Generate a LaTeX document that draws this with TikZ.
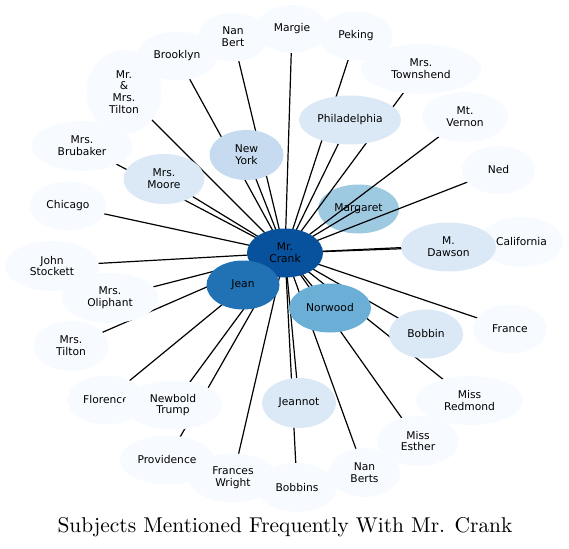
\documentclass[tikz,border=0pt]{standalone}
\usepackage{fontspec}
\newfontfamily\djv{DejaVu Sans}
\newfontfamily\ttlfont{lmroman10-regular.otf}
\usetikzlibrary{shapes.geometric}
\pgfdeclarelayer{bg}
\pgfdeclarelayer{edges}
\pgfsetlayers{bg,edges,main}
\definecolor{crankc}{HTML}{08519C}
\definecolor{jeanc}{HTML}{2171B5}
\definecolor{norwoodc}{HTML}{6BAED6}
\definecolor{margaretc}{HTML}{9ECAE1}
\definecolor{nyc}{HTML}{C6DBEF}
\definecolor{lightc}{HTML}{DBE9F6}
\definecolor{outerc}{HTML}{F7FBFF}
\tikzset{
  nd/.style={ellipse, draw=none, inner sep=0pt, align=center,
    font=\djv\fontsize{10.7}{11.7}\selectfont, text=black},
  ed/.style={line width=1.2pt, black}
}
\newcommand\nd[7]{\node[nd, fill=#6, minimum width=#4pt, minimum height=#5pt] (#1) at (#2,#3) {#7};}
\begin{document}
\begin{tikzpicture}[x=1pt,y=-1pt]
\useasboundingbox (0,0) rectangle (569,548);
\begin{pgfonlayer}{bg}
\nd{margaret}{358.5}{209}{81}{49}{margaretc}{Margaret}
\end{pgfonlayer}
\nd{crank}{285}{253}{76}{49}{crankc}{Mr.\\Crank}
\nd{jean}{243}{285}{73}{49}{jeanc}{Jean}
\nd{norwood}{330}{308}{82}{49}{norwoodc}{Norwood}
\nd{newyork}{246.5}{155}{74}{50}{nyc}{New\\York}
\nd{phil}{350}{120}{102}{49}{lightc}{Philadelphia}
\nd{brubaker}{82}{146}{101}{50}{outerc}{Mrs.\\Brubaker}
\nd{moore}{164}{179}{81}{50}{lightc}{Mrs.\\Moore}
\nd{california}{521.5}{242}{83}{50}{outerc}{California}
\nd{dawson}{448.5}{247}{95}{49}{lightc}{M.\\Dawson}
\nd{bobbin}{426}{334}{74}{49}{lightc}{Bobbin}
\nd{jeannot}{299}{403}{74}{50}{lightc}{Jeannot}
\nd{tiltons}{124}{92}{75}{84}{outerc}{Mr.\\\&\\Mrs.\\Tilton}
\nd{brooklyn}{177}{56}{80}{49}{outerc}{Brooklyn}
\nd{nanbert}{233}{37}{70}{49}{outerc}{Nan\\Bert}
\nd{margie}{292}{29}{72}{48}{outerc}{Margie}
\nd{peking}{356}{36}{73}{49}{outerc}{Peking}
\nd{townshend}{421}{69}{120}{50}{outerc}{Mrs.\\Townshend}
\nd{vernon}{465}{117}{86}{50}{outerc}{Mt.\\Vernon}
\nd{ned}{498.5}{170}{73}{48}{outerc}{Ned}
\nd{chicago}{68}{206}{77}{49}{outerc}{Chicago}
\nd{stockett}{52}{266}{94}{50}{outerc}{John\\Stockett}
\nd{oliphant}{110}{298}{97}{50}{outerc}{Mrs.\\Oliphant}
\nd{mtilton}{71}{346}{75}{50}{outerc}{Mrs.\\Tilton}
\nd{florence}{106}{400}{78}{49}{outerc}{Florence}
\nd{newbold}{173}{405}{99}{49}{outerc}{Newbold\\Trump}
\nd{providence}{167}{460}{94}{49}{outerc}{Providence}
\nd{bobbins}{297}{487.5}{80}{49}{outerc}{Bobbins}
\nd{frances}{233}{478}{88}{49}{outerc}{Frances\\Wright}
\nd{nanberts}{364.5}{472.5}{72}{49}{outerc}{Nan\\Berts}
\nd{esther}{418}{441}{82}{50}{outerc}{Miss\\Esther}
\nd{redmond}{469.5}{400.5}{107}{49}{outerc}{Miss\\Redmond}
\nd{france}{510}{329}{74}{49}{outerc}{France}
\begin{pgfonlayer}{edges}
\foreach \n in {margaret,jean,norwood,newyork,phil,brubaker,moore,california,dawson,bobbin,jeannot,tiltons,brooklyn,nanbert,margie,peking,townshend,vernon,ned,chicago,stockett,oliphant,mtilton,florence,newbold,providence,bobbins,frances,nanberts,esther,redmond,france}
  \draw[ed] (crank.center) -- (\n.center);
\end{pgfonlayer}
\node[anchor=base, inner sep=0pt, font=\ttlfont\fontsize{21.4}{25}\selectfont] (title) at (285,532) {Subjects Mentioned Frequently With Mr. Crank};
\end{tikzpicture}
\end{document}
